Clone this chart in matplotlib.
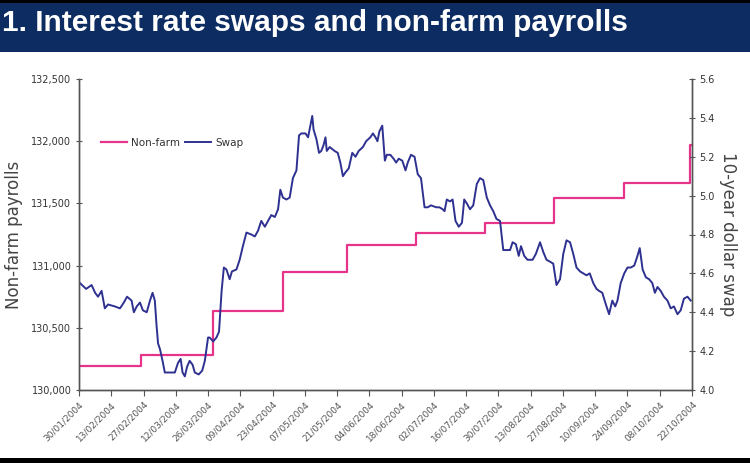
import matplotlib
matplotlib.use("Agg")
import matplotlib.pyplot as plt
from matplotlib.patches import Rectangle
from matplotlib.ticker import FuncFormatter, MultipleLocator

# x axis: business days counted from 30/01/2004, labels every 10 business days
tick_labels = ["30/01/2004", "13/02/2004", "27/02/2004", "12/03/2004", "26/03/2004",
               "09/04/2004", "23/04/2004", "07/05/2004", "21/05/2004", "04/06/2004",
               "18/06/2004", "02/07/2004", "16/07/2004", "30/07/2004", "13/08/2004",
               "27/08/2004", "10/09/2004", "24/09/2004", "08/10/2004", "22/10/2004"]

# non-farm payrolls (thousands), level starting at each day
nonfarm_day = [0, 19.2, 41.5, 63.1, 83.2, 104.6, 125.9, 147.3, 169.0, 189.3, 190]
nonfarm = [130195, 130285, 130635, 130950, 131165, 131260, 131345, 131545,
           131665, 131970, 131970]

# 10-year dollar swap rate (%)
swap_day = [0.3, 2.2, 3.9, 5.0, 5.9, 7.0, 8.0, 9.0, 11.1, 12.7, 13.9, 14.9, 16.3,
            17.0, 17.9, 18.9, 19.8, 21.0, 22.0, 22.8, 23.5, 24.0, 24.5, 25.1, 25.9,
            26.6, 27.3, 28.7, 29.7, 30.7, 31.5, 32.1, 32.8, 33.5, 34.3, 35.2, 35.9,
            37.1, 38.2, 39.0, 40.0, 40.5, 41.6, 42.6, 43.4, 44.2, 44.9, 45.7, 46.7,
            47.4, 48.8, 49.8, 50.8, 51.9, 53.4, 54.5, 55.5, 56.5, 57.6, 58.6, 59.6,
            60.7, 61.7, 62.4, 63.2, 64.3, 65.3, 66.3, 67.4, 68.2, 68.9, 70.2, 71.0,
            71.7, 72.3, 72.7, 73.6, 74.4, 75.1, 75.8, 76.4, 76.8, 77.7, 79.2, 80.2,
            81.0, 81.8, 82.6, 83.6, 84.7, 85.7, 86.7, 88.0, 89.0, 90.3, 91.1, 91.9,
            92.5, 93.1, 94.0, 94.4, 94.8, 95.4, 96.5, 97.5, 98.3, 99.1, 100.2, 101.2,
            101.9, 102.9, 104.0, 105.0, 106.0, 107.1, 108.1, 109.1, 110.7, 111.7,
            112.7, 113.3, 114.0, 115.0, 115.8, 116.7, 117.7, 118.7, 119.4, 120.2,
            121.2, 122.2, 123.3, 124.3, 125.3, 126.4, 127.4, 128.4, 129.4, 130.5,
            131.5, 132.5, 133.6, 134.4, 135.4, 136.3, 137.0, 138.0, 139.0, 140.6,
            141.6, 142.9, 143.9, 144.9, 146.0, 147.0, 148.0, 149.1, 150.1, 151.1,
            152.2, 153.2, 154.2, 155.3, 156.3, 157.3, 158.3, 159.4, 160.4, 161.2,
            162.2, 163.3, 164.3, 165.3, 166.2, 166.9, 167.9, 169.0, 170.0, 171.0,
            172.1, 173.1, 173.8, 174.7, 175.7, 176.7, 177.7, 178.5, 179.3, 180.3,
            181.3, 182.4, 183.4, 184.4, 185.5, 186.5, 187.5, 188.6, 189.6]
swap = [4.55, 4.52, 4.54, 4.50, 4.48, 4.51, 4.42, 4.44, 4.43, 4.42, 4.45, 4.48, 4.46,
        4.40, 4.43, 4.45, 4.41, 4.40, 4.46, 4.50, 4.46, 4.34, 4.24, 4.21, 4.15,
        4.09, 4.09, 4.09, 4.09, 4.14, 4.16, 4.09, 4.07, 4.12, 4.15, 4.13, 4.09,
        4.08, 4.10, 4.15, 4.27, 4.27, 4.25, 4.27, 4.30, 4.51, 4.63, 4.62, 4.57,
        4.61, 4.62, 4.67, 4.74, 4.81, 4.80, 4.79, 4.82, 4.87, 4.84, 4.87, 4.90,
        4.89, 4.93, 5.03, 4.99, 4.98, 4.99, 5.09, 5.13, 5.31, 5.32, 5.32, 5.30,
        5.36, 5.41, 5.34, 5.29, 5.22, 5.23, 5.26, 5.30, 5.23, 5.25, 5.23, 5.22,
        5.17, 5.10, 5.12, 5.14, 5.22, 5.20, 5.23, 5.25, 5.28, 5.30, 5.32, 5.30,
        5.28, 5.33, 5.36, 5.27, 5.18, 5.21, 5.21, 5.19, 5.17, 5.19, 5.18, 5.13,
        5.17, 5.21, 5.20, 5.11, 5.09, 4.94, 4.94, 4.95, 4.94, 4.94,
        4.93, 4.92, 4.98, 4.97, 4.98, 4.87, 4.84, 4.86, 4.98, 4.96,
        4.93, 4.95, 5.06, 5.09, 5.08, 4.99, 4.95, 4.92, 4.88, 4.87,
        4.72, 4.72, 4.72, 4.76, 4.75, 4.69, 4.74, 4.69, 4.67, 4.67,
        4.70, 4.76, 4.71, 4.67, 4.66, 4.65, 4.54, 4.57, 4.70, 4.77,
        4.76, 4.70, 4.63, 4.61, 4.60, 4.59, 4.60, 4.55, 4.52, 4.51,
        4.50, 4.44, 4.39, 4.46, 4.43, 4.46, 4.55, 4.60, 4.63, 4.63,
        4.64, 4.69, 4.73, 4.62, 4.58, 4.57, 4.55, 4.50, 4.53, 4.51,
        4.48, 4.46, 4.42, 4.43, 4.39, 4.41, 4.47, 4.48, 4.46]

pink = "#e8338a"
blue = "#2e3190"
grey = "#333333"

fig = plt.figure(figsize=(7.5, 4.63), dpi=100)

# title banner
fig.patches.append(Rectangle((0, 1 - 52 / 463), 1, 52 / 463, transform=fig.transFigure,
                             facecolor="#0c2c62", edgecolor="none", zorder=0))
fig.patches.append(Rectangle((0, 1 - 3 / 463), 1, 3 / 463, transform=fig.transFigure,
                             facecolor="#000000", edgecolor="none", zorder=1))
fig.patches.append(Rectangle((0, 0), 1, 5 / 463, transform=fig.transFigure,
                             facecolor="#000000", edgecolor="none", zorder=1))
fig.text(0.002, 1 - 23 / 463, "1. Interest rate swaps and non-farm payrolls",
         color="white", fontsize=21.5, fontweight="bold", va="center", ha="left",
         family=["Liberation Sans", "DejaVu Sans"])

ax = fig.add_axes([79 / 750, 1 - 390 / 463, 613 / 750, 311 / 463])
ax2 = ax.twinx()

l1, = ax.plot(nonfarm_day, nonfarm, color=pink, lw=1.6, drawstyle="steps-post",
              label="Non-farm")
l2, = ax2.plot(swap_day, swap, color=blue, lw=1.4, label="Swap")

ax.set_xlim(0, 190)
ax.set_ylim(130000, 132500)
ax2.set_ylim(4.0, 5.6)
ax.yaxis.set_major_locator(MultipleLocator(500))
ax.yaxis.set_major_formatter(FuncFormatter(lambda v, p: "{:,.0f}".format(v)))
ax2.yaxis.set_major_locator(MultipleLocator(0.2))
ax2.yaxis.set_major_formatter(FuncFormatter(lambda v, p: "{:.1f}".format(v)))

ax.set_xticks(range(0, 191, 10))
ax.set_xticklabels(tick_labels, rotation=45, ha="right", rotation_mode="anchor",
                   fontsize=6.5, color=grey)

for a in (ax, ax2):
    a.spines["top"].set_visible(False)
    for s in ("left", "right", "bottom"):
        a.spines[s].set_color("#555555")
        a.spines[s].set_linewidth(1.0)
    a.tick_params(axis="y", labelsize=7, colors="#555555", labelcolor=grey,
                  length=4, direction="inout")
ax.tick_params(axis="x", length=4, direction="out", colors="#555555", pad=3)

ax.set_ylabel("Non-farm payrolls", fontsize=12, color="#444444", labelpad=6)
ax2.set_ylabel("10-year dollar swap", fontsize=12, color="#444444", rotation=270,
               labelpad=16)

ax.legend(handles=[l1, l2], loc="upper left", bbox_to_anchor=(0.02, 0.84), ncol=2,
          frameon=False, fontsize=7.5, handlelength=2.5, columnspacing=0.5,
          handletextpad=0.4, labelcolor=grey)

fig.savefig("out.png", dpi=100)
